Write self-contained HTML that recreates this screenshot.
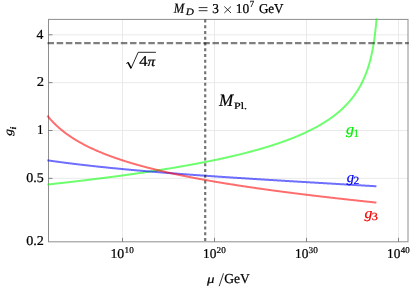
<!DOCTYPE html>
<html><head><meta charset="utf-8"><title>plot</title>
<style>html,body{margin:0;padding:0;background:#fff;overflow:hidden}body{width:413px;height:290px;position:relative;font-family:"Liberation Serif",serif}</style></head>
<body>
<svg width="413" height="290" viewBox="0 0 413 290" style="position:absolute;left:0;top:0;font-family:'Liberation Serif',serif;will-change:transform;text-rendering:geometricPrecision">
<rect x="0" y="0" width="413" height="290" fill="#fff"/>
<line x1="122.50" y1="19.4" x2="122.50" y2="241.8" stroke="#e5e5e5" stroke-width="0.8"/>
<line x1="214.50" y1="19.4" x2="214.50" y2="241.8" stroke="#e5e5e5" stroke-width="0.8"/>
<line x1="306.50" y1="19.4" x2="306.50" y2="241.8" stroke="#e5e5e5" stroke-width="0.8"/>
<line x1="398.50" y1="19.4" x2="398.50" y2="241.8" stroke="#e5e5e5" stroke-width="0.8"/>
<line x1="48.5" y1="34.80" x2="408.0" y2="34.80" stroke="#e5e5e5" stroke-width="0.8"/>
<line x1="48.5" y1="82.65" x2="408.0" y2="82.65" stroke="#e5e5e5" stroke-width="0.8"/>
<line x1="48.5" y1="130.50" x2="408.0" y2="130.50" stroke="#e5e5e5" stroke-width="0.8"/>
<line x1="48.5" y1="178.35" x2="408.0" y2="178.35" stroke="#e5e5e5" stroke-width="0.8"/>
<rect x="48.5" y="19.4" width="359.5" height="222.4" fill="none" stroke="#8e8e8e" stroke-width="1"/>
<path d="M47.40 184.54 L47.90 184.49 L48.40 184.43 L48.90 184.38 L49.40 184.33 L49.90 184.27 L50.40 184.22 L50.90 184.16 L51.40 184.11 L51.90 184.05 L52.40 184.00 L52.90 183.94 L53.40 183.89 L53.90 183.83 L54.40 183.78 L54.90 183.72 L55.40 183.67 L55.90 183.61 L56.40 183.56 L56.90 183.50 L57.40 183.45 L57.90 183.39 L58.40 183.34 L58.90 183.28 L59.40 183.22 L59.90 183.17 L60.40 183.11 L60.90 183.06 L61.40 183.00 L61.90 182.94 L62.40 182.89 L62.90 182.83 L63.40 182.77 L63.90 182.72 L64.40 182.66 L64.90 182.60 L65.40 182.55 L65.90 182.49 L66.40 182.43 L66.90 182.38 L67.40 182.32 L67.90 182.26 L68.40 182.21 L68.90 182.15 L69.40 182.09 L69.90 182.03 L70.40 181.98 L70.90 181.92 L71.40 181.86 L71.90 181.80 L72.40 181.75 L72.90 181.69 L73.40 181.63 L73.90 181.57 L74.40 181.51 L74.90 181.46 L75.40 181.40 L75.90 181.34 L76.40 181.28 L76.90 181.22 L77.40 181.16 L77.90 181.10 L78.40 181.04 L78.90 180.99 L79.40 180.93 L79.90 180.87 L80.40 180.81 L80.90 180.75 L81.40 180.69 L81.90 180.63 L82.40 180.57 L82.90 180.51 L83.40 180.45 L83.90 180.39 L84.40 180.33 L84.90 180.27 L85.40 180.21 L85.90 180.15 L86.40 180.09 L86.90 180.03 L87.40 179.97 L87.90 179.91 L88.40 179.85 L88.90 179.79 L89.40 179.73 L89.90 179.67 L90.40 179.60 L90.90 179.54 L91.40 179.48 L91.90 179.42 L92.40 179.36 L92.90 179.30 L93.40 179.24 L93.90 179.17 L94.40 179.11 L94.90 179.05 L95.40 178.99 L95.90 178.93 L96.40 178.86 L96.90 178.80 L97.40 178.74 L97.90 178.68 L98.40 178.61 L98.90 178.55 L99.40 178.49 L99.90 178.43 L100.40 178.36 L100.90 178.30 L101.40 178.24 L101.90 178.17 L102.40 178.11 L102.90 178.05 L103.40 177.98 L103.90 177.92 L104.40 177.85 L104.90 177.79 L105.40 177.73 L105.90 177.66 L106.40 177.60 L106.90 177.53 L107.40 177.47 L107.90 177.40 L108.40 177.34 L108.90 177.27 L109.40 177.21 L109.90 177.14 L110.40 177.08 L110.90 177.01 L111.40 176.95 L111.90 176.88 L112.40 176.82 L112.90 176.75 L113.40 176.68 L113.90 176.62 L114.40 176.55 L114.90 176.49 L115.40 176.42 L115.90 176.35 L116.40 176.29 L116.90 176.22 L117.40 176.15 L117.90 176.09 L118.40 176.02 L118.90 175.95 L119.40 175.89 L119.90 175.82 L120.40 175.75 L120.90 175.68 L121.40 175.61 L121.90 175.55 L122.40 175.48 L122.90 175.41 L123.40 175.34 L123.90 175.27 L124.40 175.21 L124.90 175.14 L125.40 175.07 L125.90 175.00 L126.40 174.93 L126.90 174.86 L127.40 174.79 L127.90 174.72 L128.40 174.65 L128.90 174.58 L129.40 174.51 L129.90 174.44 L130.40 174.37 L130.90 174.30 L131.40 174.23 L131.90 174.16 L132.40 174.09 L132.90 174.02 L133.40 173.95 L133.90 173.88 L134.40 173.81 L134.90 173.74 L135.40 173.67 L135.90 173.59 L136.40 173.52 L136.90 173.45 L137.40 173.38 L137.90 173.31 L138.40 173.23 L138.90 173.16 L139.40 173.09 L139.90 173.02 L140.40 172.94 L140.90 172.87 L141.40 172.80 L141.90 172.72 L142.40 172.65 L142.90 172.58 L143.40 172.50 L143.90 172.43 L144.40 172.36 L144.90 172.28 L145.40 172.21 L145.90 172.13 L146.40 172.06 L146.90 171.98 L147.40 171.91 L147.90 171.83 L148.40 171.76 L148.90 171.68 L149.40 171.61 L149.90 171.53 L150.40 171.46 L150.90 171.38 L151.40 171.30 L151.90 171.23 L152.40 171.15 L152.90 171.08 L153.40 171.00 L153.90 170.92 L154.40 170.84 L154.90 170.77 L155.40 170.69 L155.90 170.61 L156.40 170.53 L156.90 170.46 L157.40 170.38 L157.90 170.30 L158.40 170.22 L158.90 170.14 L159.40 170.06 L159.90 169.99 L160.40 169.91 L160.90 169.83 L161.40 169.75 L161.90 169.67 L162.40 169.59 L162.90 169.51 L163.40 169.43 L163.90 169.35 L164.40 169.27 L164.90 169.19 L165.40 169.11 L165.90 169.03 L166.40 168.94 L166.90 168.86 L167.40 168.78 L167.90 168.70 L168.40 168.62 L168.90 168.54 L169.40 168.45 L169.90 168.37 L170.40 168.29 L170.90 168.20 L171.40 168.12 L171.90 168.04 L172.40 167.95 L172.90 167.87 L173.40 167.79 L173.90 167.70 L174.40 167.62 L174.90 167.53 L175.40 167.45 L175.90 167.37 L176.40 167.28 L176.90 167.19 L177.40 167.11 L177.90 167.02 L178.40 166.94 L178.90 166.85 L179.40 166.77 L179.90 166.68 L180.40 166.59 L180.90 166.51 L181.40 166.42 L181.90 166.33 L182.40 166.24 L182.90 166.16 L183.40 166.07 L183.90 165.98 L184.40 165.89 L184.90 165.80 L185.40 165.71 L185.90 165.62 L186.40 165.53 L186.90 165.45 L187.40 165.36 L187.90 165.27 L188.40 165.18 L188.90 165.09 L189.40 164.99 L189.90 164.90 L190.40 164.81 L190.90 164.72 L191.40 164.63 L191.90 164.54 L192.40 164.45 L192.90 164.35 L193.40 164.26 L193.90 164.17 L194.40 164.07 L194.90 163.98 L195.40 163.89 L195.90 163.79 L196.40 163.70 L196.90 163.61 L197.40 163.51 L197.90 163.42 L198.40 163.32 L198.90 163.23 L199.40 163.13 L199.90 163.03 L200.40 162.94 L200.90 162.84 L201.40 162.75 L201.90 162.65 L202.40 162.55 L202.90 162.45 L203.40 162.36 L203.90 162.26 L204.40 162.16 L204.90 162.06 L205.40 161.96 L205.90 161.86 L206.40 161.76 L206.90 161.66 L207.40 161.56 L207.90 161.46 L208.40 161.36 L208.90 161.26 L209.40 161.16 L209.90 161.06 L210.40 160.96 L210.90 160.86 L211.40 160.76 L211.90 160.65 L212.40 160.55 L212.90 160.45 L213.40 160.34 L213.90 160.24 L214.40 160.14 L214.90 160.03 L215.40 159.93 L215.90 159.82 L216.40 159.72 L216.90 159.61 L217.40 159.50 L217.90 159.40 L218.40 159.29 L218.90 159.18 L219.40 159.08 L219.90 158.97 L220.40 158.86 L220.90 158.75 L221.40 158.65 L221.90 158.54 L222.40 158.43 L222.90 158.32 L223.40 158.21 L223.90 158.10 L224.40 157.99 L224.90 157.88 L225.40 157.76 L225.90 157.65 L226.40 157.54 L226.90 157.43 L227.40 157.31 L227.90 157.20 L228.40 157.09 L228.90 156.97 L229.40 156.86 L229.90 156.75 L230.40 156.63 L230.90 156.51 L231.40 156.40 L231.90 156.28 L232.40 156.17 L232.90 156.05 L233.40 155.93 L233.90 155.81 L234.40 155.70 L234.90 155.58 L235.40 155.46 L235.90 155.34 L236.40 155.22 L236.90 155.10 L237.40 154.98 L237.90 154.86 L238.40 154.74 L238.90 154.61 L239.40 154.49 L239.90 154.37 L240.40 154.25 L240.90 154.12 L241.40 154.00 L241.90 153.87 L242.40 153.75 L242.90 153.62 L243.40 153.50 L243.90 153.37 L244.40 153.24 L244.90 153.12 L245.40 152.99 L245.90 152.86 L246.40 152.73 L246.90 152.60 L247.40 152.47 L247.90 152.34 L248.40 152.21 L248.90 152.08 L249.40 151.95 L249.90 151.82 L250.40 151.68 L250.90 151.55 L251.40 151.42 L251.90 151.28 L252.40 151.15 L252.90 151.01 L253.40 150.88 L253.90 150.74 L254.40 150.60 L254.90 150.46 L255.40 150.33 L255.90 150.19 L256.40 150.05 L256.90 149.91 L257.40 149.77 L257.90 149.63 L258.40 149.49 L258.90 149.34 L259.40 149.20 L259.90 149.06 L260.40 148.92 L260.90 148.77 L261.40 148.63 L261.90 148.48 L262.40 148.33 L262.90 148.19 L263.40 148.04 L263.90 147.89 L264.40 147.74 L264.90 147.59 L265.40 147.44 L265.90 147.29 L266.40 147.14 L266.90 146.99 L267.40 146.84 L267.90 146.68 L268.40 146.53 L268.90 146.37 L269.40 146.22 L269.90 146.06 L270.40 145.90 L270.90 145.75 L271.40 145.59 L271.90 145.43 L272.40 145.27 L272.90 145.11 L273.40 144.95 L273.90 144.78 L274.40 144.62 L274.90 144.46 L275.40 144.29 L275.90 144.13 L276.40 143.96 L276.90 143.80 L277.40 143.63 L277.90 143.46 L278.40 143.29 L278.90 143.12 L279.40 142.95 L279.90 142.78 L280.40 142.60 L280.90 142.43 L281.40 142.25 L281.90 142.08 L282.40 141.90 L282.90 141.73 L283.40 141.55 L283.90 141.37 L284.40 141.19 L284.90 141.01 L285.40 140.82 L285.90 140.64 L286.40 140.46 L286.90 140.27 L287.40 140.09 L287.90 139.90 L288.40 139.71 L288.90 139.52 L289.40 139.33 L289.90 139.14 L290.40 138.95 L290.90 138.76 L291.40 138.56 L291.90 138.37 L292.40 138.17 L292.90 137.97 L293.40 137.77 L293.90 137.57 L294.40 137.37 L294.90 137.17 L295.40 136.96 L295.90 136.76 L296.40 136.55 L296.90 136.35 L297.40 136.14 L297.90 135.93 L298.40 135.72 L298.90 135.50 L299.40 135.29 L299.90 135.07 L300.40 134.86 L300.90 134.64 L301.40 134.42 L301.90 134.20 L302.40 133.98 L302.90 133.75 L303.40 133.53 L303.90 133.30 L304.40 133.07 L304.90 132.84 L305.40 132.61 L305.90 132.38 L306.40 132.14 L306.90 131.91 L307.40 131.67 L307.90 131.43 L308.40 131.19 L308.90 130.95 L309.40 130.70 L309.90 130.45 L310.40 130.21 L310.90 129.96 L311.40 129.70 L311.90 129.45 L312.40 129.19 L312.90 128.94 L313.40 128.68 L313.90 128.42 L314.40 128.15 L314.90 127.89 L315.40 127.62 L315.90 127.35 L316.40 127.08 L316.90 126.80 L317.40 126.53 L317.90 126.25 L318.40 125.97 L318.90 125.68 L319.40 125.40 L319.90 125.11 L320.40 124.82 L320.90 124.53 L321.40 124.23 L321.90 123.93 L322.40 123.63 L322.90 123.33 L323.40 123.02 L323.90 122.71 L324.40 122.40 L324.90 122.09 L325.40 121.77 L325.90 121.45 L326.40 121.13 L326.90 120.80 L327.40 120.47 L327.90 120.14 L328.40 119.80 L328.90 119.46 L329.40 119.12 L329.90 118.77 L330.40 118.42 L330.90 118.07 L331.40 117.71 L331.90 117.35 L332.40 116.99 L332.90 116.62 L333.40 116.24 L333.90 115.87 L334.40 115.49 L334.90 115.10 L335.40 114.71 L335.90 114.32 L336.40 113.92 L336.90 113.51 L337.40 113.11 L337.90 112.69 L338.40 112.27 L338.90 111.85 L339.40 111.42 L339.90 110.99 L340.40 110.55 L340.90 110.10 L341.40 109.65 L341.90 109.19 L342.40 108.73 L342.90 108.26 L343.40 107.78 L343.90 107.30 L344.40 106.81 L344.90 106.31 L345.40 105.80 L345.90 105.29 L346.40 104.77 L346.90 104.24 L347.40 103.71 L347.90 103.16 L348.40 102.61 L348.90 102.05 L349.40 101.47 L349.90 100.89 L350.40 100.30 L350.90 99.70 L351.40 99.08 L351.90 98.46 L352.40 97.82 L352.90 97.18 L353.40 96.52 L353.90 95.84 L354.40 95.16 L354.90 94.45 L355.40 93.74 L355.90 93.01 L356.40 92.26 L356.90 91.50 L357.40 90.72 L357.90 89.92 L358.40 89.10 L358.90 88.27 L359.40 87.41 L359.90 86.53 L360.40 85.62 L360.90 84.70 L361.40 83.74 L361.90 82.76 L362.40 81.75 L362.90 80.71 L363.40 79.64 L363.90 78.53 L364.40 77.39 L364.90 76.21 L365.40 74.98 L365.90 73.71 L366.40 72.39 L366.90 71.02 L367.40 69.59 L367.90 68.10 L368.40 66.55 L368.90 64.92 L369.40 63.21 L369.90 61.41 L370.40 59.51 L370.90 57.49 L371.40 55.36 L371.90 53.08 L372.40 50.65 L372.90 48.03 L373.40 45.19 L373.90 42.10 L374.40 38.70 L374.90 34.94 L375.40 30.71 L375.90 25.90 L376.40 20.30 L376.56 18.30" fill="none" stroke="#00ff00" stroke-opacity="0.57" stroke-width="2.0" stroke-linejoin="round"/>
<path d="M47.40 160.32 L47.90 160.39 L48.40 160.46 L48.90 160.53 L49.40 160.60 L49.90 160.68 L50.40 160.75 L50.90 160.82 L51.40 160.89 L51.90 160.96 L52.40 161.03 L52.90 161.10 L53.40 161.17 L53.90 161.24 L54.40 161.31 L54.90 161.38 L55.40 161.45 L55.90 161.51 L56.40 161.58 L56.90 161.65 L57.40 161.72 L57.90 161.79 L58.40 161.85 L58.90 161.92 L59.40 161.99 L59.90 162.05 L60.40 162.12 L60.90 162.19 L61.40 162.25 L61.90 162.32 L62.40 162.38 L62.90 162.45 L63.40 162.52 L63.90 162.58 L64.40 162.65 L64.90 162.71 L65.40 162.77 L65.90 162.84 L66.40 162.90 L66.90 162.97 L67.40 163.03 L67.90 163.09 L68.40 163.16 L68.90 163.22 L69.40 163.28 L69.90 163.35 L70.40 163.41 L70.90 163.47 L71.40 163.53 L71.90 163.60 L72.40 163.66 L72.90 163.72 L73.40 163.78 L73.90 163.84 L74.40 163.90 L74.90 163.96 L75.40 164.02 L75.90 164.08 L76.40 164.14 L76.90 164.21 L77.40 164.27 L77.90 164.32 L78.40 164.38 L78.90 164.44 L79.40 164.50 L79.90 164.56 L80.40 164.62 L80.90 164.68 L81.40 164.74 L81.90 164.80 L82.40 164.86 L82.90 164.91 L83.40 164.97 L83.90 165.03 L84.40 165.09 L84.90 165.14 L85.40 165.20 L85.90 165.26 L86.40 165.32 L86.90 165.37 L87.40 165.43 L87.90 165.49 L88.40 165.54 L88.90 165.60 L89.40 165.65 L89.90 165.71 L90.40 165.77 L90.90 165.82 L91.40 165.88 L91.90 165.93 L92.40 165.99 L92.90 166.04 L93.40 166.10 L93.90 166.15 L94.40 166.21 L94.90 166.26 L95.40 166.31 L95.90 166.37 L96.40 166.42 L96.90 166.48 L97.40 166.53 L97.90 166.58 L98.40 166.64 L98.90 166.69 L99.40 166.74 L99.90 166.80 L100.40 166.85 L100.90 166.90 L101.40 166.95 L101.90 167.01 L102.40 167.06 L102.90 167.11 L103.40 167.16 L103.90 167.22 L104.40 167.27 L104.90 167.32 L105.40 167.37 L105.90 167.42 L106.40 167.47 L106.90 167.52 L107.40 167.57 L107.90 167.63 L108.40 167.68 L108.90 167.73 L109.40 167.78 L109.90 167.83 L110.40 167.88 L110.90 167.93 L111.40 167.98 L111.90 168.03 L112.40 168.08 L112.90 168.13 L113.40 168.18 L113.90 168.23 L114.40 168.27 L114.90 168.32 L115.40 168.37 L115.90 168.42 L116.40 168.47 L116.90 168.52 L117.40 168.57 L117.90 168.62 L118.40 168.66 L118.90 168.71 L119.40 168.76 L119.90 168.81 L120.40 168.86 L120.90 168.90 L121.40 168.95 L121.90 169.00 L122.40 169.05 L122.90 169.09 L123.40 169.14 L123.90 169.19 L124.40 169.24 L124.90 169.28 L125.40 169.33 L125.90 169.38 L126.40 169.42 L126.90 169.47 L127.40 169.51 L127.90 169.56 L128.40 169.61 L128.90 169.65 L129.40 169.70 L129.90 169.74 L130.40 169.79 L130.90 169.84 L131.40 169.88 L131.90 169.93 L132.40 169.97 L132.90 170.02 L133.40 170.06 L133.90 170.11 L134.40 170.15 L134.90 170.20 L135.40 170.24 L135.90 170.29 L136.40 170.33 L136.90 170.38 L137.40 170.42 L137.90 170.46 L138.40 170.51 L138.90 170.55 L139.40 170.60 L139.90 170.64 L140.40 170.68 L140.90 170.73 L141.40 170.77 L141.90 170.81 L142.40 170.86 L142.90 170.90 L143.40 170.94 L143.90 170.99 L144.40 171.03 L144.90 171.07 L145.40 171.12 L145.90 171.16 L146.40 171.20 L146.90 171.24 L147.40 171.29 L147.90 171.33 L148.40 171.37 L148.90 171.41 L149.40 171.46 L149.90 171.50 L150.40 171.54 L150.90 171.58 L151.40 171.62 L151.90 171.67 L152.40 171.71 L152.90 171.75 L153.40 171.79 L153.90 171.83 L154.40 171.87 L154.90 171.91 L155.40 171.95 L155.90 172.00 L156.40 172.04 L156.90 172.08 L157.40 172.12 L157.90 172.16 L158.40 172.20 L158.90 172.24 L159.40 172.28 L159.90 172.32 L160.40 172.36 L160.90 172.40 L161.40 172.44 L161.90 172.48 L162.40 172.52 L162.90 172.56 L163.40 172.60 L163.90 172.64 L164.40 172.68 L164.90 172.72 L165.40 172.76 L165.90 172.80 L166.40 172.84 L166.90 172.88 L167.40 172.92 L167.90 172.96 L168.40 173.00 L168.90 173.04 L169.40 173.08 L169.90 173.12 L170.40 173.16 L170.90 173.19 L171.40 173.23 L171.90 173.27 L172.40 173.31 L172.90 173.35 L173.40 173.39 L173.90 173.43 L174.40 173.46 L174.90 173.50 L175.40 173.54 L175.90 173.58 L176.40 173.62 L176.90 173.66 L177.40 173.69 L177.90 173.73 L178.40 173.77 L178.90 173.81 L179.40 173.85 L179.90 173.88 L180.40 173.92 L180.90 173.96 L181.40 174.00 L181.90 174.03 L182.40 174.07 L182.90 174.11 L183.40 174.15 L183.90 174.18 L184.40 174.22 L184.90 174.26 L185.40 174.29 L185.90 174.33 L186.40 174.37 L186.90 174.41 L187.40 174.44 L187.90 174.48 L188.40 174.52 L188.90 174.55 L189.40 174.59 L189.90 174.63 L190.40 174.66 L190.90 174.70 L191.40 174.74 L191.90 174.77 L192.40 174.81 L192.90 174.84 L193.40 174.88 L193.90 174.92 L194.40 174.95 L194.90 174.99 L195.40 175.02 L195.90 175.06 L196.40 175.10 L196.90 175.13 L197.40 175.17 L197.90 175.20 L198.40 175.24 L198.90 175.27 L199.40 175.31 L199.90 175.35 L200.40 175.38 L200.90 175.42 L201.40 175.45 L201.90 175.49 L202.40 175.52 L202.90 175.56 L203.40 175.59 L203.90 175.63 L204.40 175.66 L204.90 175.70 L205.40 175.73 L205.90 175.77 L206.40 175.80 L206.90 175.84 L207.40 175.87 L207.90 175.91 L208.40 175.94 L208.90 175.98 L209.40 176.01 L209.90 176.05 L210.40 176.08 L210.90 176.12 L211.40 176.15 L211.90 176.18 L212.40 176.22 L212.90 176.25 L213.40 176.29 L213.90 176.32 L214.40 176.36 L214.90 176.39 L215.40 176.42 L215.90 176.46 L216.40 176.49 L216.90 176.53 L217.40 176.56 L217.90 176.59 L218.40 176.63 L218.90 176.66 L219.40 176.69 L219.90 176.73 L220.40 176.76 L220.90 176.80 L221.40 176.83 L221.90 176.86 L222.40 176.90 L222.90 176.93 L223.40 176.96 L223.90 177.00 L224.40 177.03 L224.90 177.06 L225.40 177.10 L225.90 177.13 L226.40 177.16 L226.90 177.20 L227.40 177.23 L227.90 177.26 L228.40 177.30 L228.90 177.33 L229.40 177.36 L229.90 177.40 L230.40 177.43 L230.90 177.46 L231.40 177.49 L231.90 177.53 L232.40 177.56 L232.90 177.59 L233.40 177.63 L233.90 177.66 L234.40 177.69 L234.90 177.72 L235.40 177.76 L235.90 177.79 L236.40 177.82 L236.90 177.85 L237.40 177.89 L237.90 177.92 L238.40 177.95 L238.90 177.98 L239.40 178.02 L239.90 178.05 L240.40 178.08 L240.90 178.11 L241.40 178.14 L241.90 178.18 L242.40 178.21 L242.90 178.24 L243.40 178.27 L243.90 178.31 L244.40 178.34 L244.90 178.37 L245.40 178.40 L245.90 178.43 L246.40 178.47 L246.90 178.50 L247.40 178.53 L247.90 178.56 L248.40 178.59 L248.90 178.62 L249.40 178.66 L249.90 178.69 L250.40 178.72 L250.90 178.75 L251.40 178.78 L251.90 178.81 L252.40 178.85 L252.90 178.88 L253.40 178.91 L253.90 178.94 L254.40 178.97 L254.90 179.00 L255.40 179.04 L255.90 179.07 L256.40 179.10 L256.90 179.13 L257.40 179.16 L257.90 179.19 L258.40 179.22 L258.90 179.26 L259.40 179.29 L259.90 179.32 L260.40 179.35 L260.90 179.38 L261.40 179.41 L261.90 179.44 L262.40 179.47 L262.90 179.50 L263.40 179.54 L263.90 179.57 L264.40 179.60 L264.90 179.63 L265.40 179.66 L265.90 179.69 L266.40 179.72 L266.90 179.75 L267.40 179.78 L267.90 179.81 L268.40 179.85 L268.90 179.88 L269.40 179.91 L269.90 179.94 L270.40 179.97 L270.90 180.00 L271.40 180.03 L271.90 180.06 L272.40 180.09 L272.90 180.12 L273.40 180.15 L273.90 180.18 L274.40 180.21 L274.90 180.24 L275.40 180.28 L275.90 180.31 L276.40 180.34 L276.90 180.37 L277.40 180.40 L277.90 180.43 L278.40 180.46 L278.90 180.49 L279.40 180.52 L279.90 180.55 L280.40 180.58 L280.90 180.61 L281.40 180.64 L281.90 180.67 L282.40 180.70 L282.90 180.73 L283.40 180.76 L283.90 180.79 L284.40 180.82 L284.90 180.85 L285.40 180.88 L285.90 180.91 L286.40 180.94 L286.90 180.97 L287.40 181.01 L287.90 181.04 L288.40 181.07 L288.90 181.10 L289.40 181.13 L289.90 181.16 L290.40 181.19 L290.90 181.22 L291.40 181.25 L291.90 181.28 L292.40 181.31 L292.90 181.34 L293.40 181.37 L293.90 181.40 L294.40 181.43 L294.90 181.46 L295.40 181.49 L295.90 181.52 L296.40 181.55 L296.90 181.58 L297.40 181.61 L297.90 181.64 L298.40 181.67 L298.90 181.70 L299.40 181.73 L299.90 181.76 L300.40 181.79 L300.90 181.82 L301.40 181.85 L301.90 181.88 L302.40 181.91 L302.90 181.94 L303.40 181.97 L303.90 182.00 L304.40 182.03 L304.90 182.05 L305.40 182.08 L305.90 182.11 L306.40 182.14 L306.90 182.17 L307.40 182.20 L307.90 182.23 L308.40 182.26 L308.90 182.29 L309.40 182.32 L309.90 182.35 L310.40 182.38 L310.90 182.41 L311.40 182.44 L311.90 182.47 L312.40 182.50 L312.90 182.53 L313.40 182.56 L313.90 182.59 L314.40 182.62 L314.90 182.65 L315.40 182.68 L315.90 182.71 L316.40 182.74 L316.90 182.77 L317.40 182.80 L317.90 182.83 L318.40 182.86 L318.90 182.89 L319.40 182.92 L319.90 182.95 L320.40 182.97 L320.90 183.00 L321.40 183.03 L321.90 183.06 L322.40 183.09 L322.90 183.12 L323.40 183.15 L323.90 183.18 L324.40 183.21 L324.90 183.24 L325.40 183.27 L325.90 183.30 L326.40 183.33 L326.90 183.36 L327.40 183.39 L327.90 183.42 L328.40 183.45 L328.90 183.48 L329.40 183.51 L329.90 183.54 L330.40 183.57 L330.90 183.59 L331.40 183.62 L331.90 183.65 L332.40 183.68 L332.90 183.71 L333.40 183.74 L333.90 183.77 L334.40 183.80 L334.90 183.83 L335.40 183.86 L335.90 183.89 L336.40 183.92 L336.90 183.95 L337.40 183.98 L337.90 184.01 L338.40 184.04 L338.90 184.07 L339.40 184.10 L339.90 184.13 L340.40 184.15 L340.90 184.18 L341.40 184.21 L341.90 184.24 L342.40 184.27 L342.90 184.30 L343.40 184.33 L343.90 184.36 L344.40 184.39 L344.90 184.42 L345.40 184.45 L345.90 184.48 L346.40 184.51 L346.90 184.54 L347.40 184.57 L347.90 184.60 L348.40 184.63 L348.90 184.66 L349.40 184.68 L349.90 184.71 L350.40 184.74 L350.90 184.77 L351.40 184.80 L351.90 184.83 L352.40 184.86 L352.90 184.89 L353.40 184.92 L353.90 184.95 L354.40 184.98 L354.90 185.01 L355.40 185.04 L355.90 185.07 L356.40 185.10 L356.90 185.13 L357.40 185.16 L357.90 185.19 L358.40 185.21 L358.90 185.24 L359.40 185.27 L359.90 185.30 L360.40 185.33 L360.90 185.36 L361.40 185.39 L361.90 185.42 L362.40 185.45 L362.90 185.48 L363.40 185.51 L363.90 185.54 L364.40 185.57 L364.90 185.60 L365.40 185.63 L365.90 185.66 L366.40 185.69 L366.90 185.72 L367.40 185.75 L367.90 185.78 L368.40 185.81 L368.90 185.83 L369.40 185.86 L369.90 185.89 L370.40 185.92 L370.90 185.95 L371.40 185.98 L371.90 186.01 L372.40 186.04 L372.90 186.07 L373.40 186.10 L373.90 186.13 L374.40 186.16 L374.90 186.19 L375.40 186.22 L375.90 186.25 L376.40 186.28" fill="none" stroke="#0000ff" stroke-opacity="0.57" stroke-width="2.0" stroke-linejoin="round"/>
<path d="M47.40 115.72 L47.90 116.34 L48.40 116.95 L48.90 117.55 L49.40 118.14 L49.90 118.72 L50.40 119.29 L50.90 119.85 L51.40 120.40 L51.90 120.94 L52.40 121.47 L52.90 122.00 L53.40 122.51 L53.90 123.02 L54.40 123.52 L54.90 124.02 L55.40 124.50 L55.90 124.98 L56.40 125.45 L56.90 125.92 L57.40 126.38 L57.90 126.83 L58.40 127.28 L58.90 127.72 L59.40 128.15 L59.90 128.58 L60.40 129.01 L60.90 129.43 L61.40 129.84 L61.90 130.25 L62.40 130.65 L62.90 131.05 L63.40 131.45 L63.90 131.84 L64.40 132.22 L64.90 132.60 L65.40 132.98 L65.90 133.35 L66.40 133.72 L66.90 134.08 L67.40 134.44 L67.90 134.80 L68.40 135.15 L68.90 135.50 L69.40 135.84 L69.90 136.18 L70.40 136.52 L70.90 136.85 L71.40 137.19 L71.90 137.51 L72.40 137.84 L72.90 138.16 L73.40 138.48 L73.90 138.79 L74.40 139.10 L74.90 139.41 L75.40 139.72 L75.90 140.02 L76.40 140.32 L76.90 140.62 L77.40 140.92 L77.90 141.21 L78.40 141.50 L78.90 141.79 L79.40 142.07 L79.90 142.36 L80.40 142.64 L80.90 142.91 L81.40 143.19 L81.90 143.46 L82.40 143.73 L82.90 144.00 L83.40 144.27 L83.90 144.53 L84.40 144.80 L84.90 145.06 L85.40 145.31 L85.90 145.57 L86.40 145.82 L86.90 146.08 L87.40 146.33 L87.90 146.58 L88.40 146.82 L88.90 147.07 L89.40 147.31 L89.90 147.55 L90.40 147.79 L90.90 148.03 L91.40 148.26 L91.90 148.50 L92.40 148.73 L92.90 148.96 L93.40 149.19 L93.90 149.42 L94.40 149.64 L94.90 149.87 L95.40 150.09 L95.90 150.31 L96.40 150.53 L96.90 150.75 L97.40 150.97 L97.90 151.18 L98.40 151.40 L98.90 151.61 L99.40 151.82 L99.90 152.03 L100.40 152.24 L100.90 152.45 L101.40 152.65 L101.90 152.86 L102.40 153.06 L102.90 153.26 L103.40 153.46 L103.90 153.66 L104.40 153.86 L104.90 154.06 L105.40 154.26 L105.90 154.45 L106.40 154.65 L106.90 154.84 L107.40 155.03 L107.90 155.22 L108.40 155.41 L108.90 155.60 L109.40 155.78 L109.90 155.97 L110.40 156.15 L110.90 156.34 L111.40 156.52 L111.90 156.70 L112.40 156.88 L112.90 157.06 L113.40 157.24 L113.90 157.42 L114.40 157.60 L114.90 157.77 L115.40 157.95 L115.90 158.12 L116.40 158.30 L116.90 158.47 L117.40 158.64 L117.90 158.81 L118.40 158.98 L118.90 159.15 L119.40 159.32 L119.90 159.48 L120.40 159.65 L120.90 159.81 L121.40 159.98 L121.90 160.14 L122.40 160.31 L122.90 160.47 L123.40 160.63 L123.90 160.79 L124.40 160.95 L124.90 161.11 L125.40 161.26 L125.90 161.42 L126.40 161.58 L126.90 161.73 L127.40 161.89 L127.90 162.04 L128.40 162.20 L128.90 162.35 L129.40 162.50 L129.90 162.65 L130.40 162.80 L130.90 162.95 L131.40 163.10 L131.90 163.25 L132.40 163.40 L132.90 163.55 L133.40 163.69 L133.90 163.84 L134.40 163.99 L134.90 164.13 L135.40 164.27 L135.90 164.42 L136.40 164.56 L136.90 164.70 L137.40 164.84 L137.90 164.98 L138.40 165.13 L138.90 165.26 L139.40 165.40 L139.90 165.54 L140.40 165.68 L140.90 165.82 L141.40 165.95 L141.90 166.09 L142.40 166.23 L142.90 166.36 L143.40 166.50 L143.90 166.63 L144.40 166.76 L144.90 166.90 L145.40 167.03 L145.90 167.16 L146.40 167.29 L146.90 167.42 L147.40 167.55 L147.90 167.68 L148.40 167.81 L148.90 167.94 L149.40 168.07 L149.90 168.20 L150.40 168.32 L150.90 168.45 L151.40 168.58 L151.90 168.70 L152.40 168.83 L152.90 168.95 L153.40 169.08 L153.90 169.20 L154.40 169.32 L154.90 169.45 L155.40 169.57 L155.90 169.69 L156.40 169.81 L156.90 169.94 L157.40 170.06 L157.90 170.18 L158.40 170.30 L158.90 170.42 L159.40 170.53 L159.90 170.65 L160.40 170.77 L160.90 170.89 L161.40 171.01 L161.90 171.12 L162.40 171.24 L162.90 171.36 L163.40 171.47 L163.90 171.59 L164.40 171.70 L164.90 171.82 L165.40 171.93 L165.90 172.04 L166.40 172.16 L166.90 172.27 L167.40 172.38 L167.90 172.49 L168.40 172.61 L168.90 172.72 L169.40 172.83 L169.90 172.94 L170.40 173.05 L170.90 173.16 L171.40 173.27 L171.90 173.38 L172.40 173.49 L172.90 173.59 L173.40 173.70 L173.90 173.81 L174.40 173.92 L174.90 174.03 L175.40 174.13 L175.90 174.24 L176.40 174.34 L176.90 174.45 L177.40 174.56 L177.90 174.66 L178.40 174.77 L178.90 174.87 L179.40 174.97 L179.90 175.08 L180.40 175.18 L180.90 175.28 L181.40 175.39 L181.90 175.49 L182.40 175.59 L182.90 175.69 L183.40 175.80 L183.90 175.90 L184.40 176.00 L184.90 176.10 L185.40 176.20 L185.90 176.30 L186.40 176.40 L186.90 176.50 L187.40 176.60 L187.90 176.70 L188.40 176.79 L188.90 176.89 L189.40 176.99 L189.90 177.09 L190.40 177.19 L190.90 177.28 L191.40 177.38 L191.90 177.48 L192.40 177.57 L192.90 177.67 L193.40 177.77 L193.90 177.86 L194.40 177.96 L194.90 178.05 L195.40 178.15 L195.90 178.24 L196.40 178.34 L196.90 178.43 L197.40 178.52 L197.90 178.62 L198.40 178.71 L198.90 178.80 L199.40 178.90 L199.90 178.99 L200.40 179.08 L200.90 179.17 L201.40 179.26 L201.90 179.36 L202.40 179.45 L202.90 179.54 L203.40 179.63 L203.90 179.72 L204.40 179.81 L204.90 179.90 L205.40 179.99 L205.90 180.08 L206.40 180.17 L206.90 180.26 L207.40 180.35 L207.90 180.43 L208.40 180.52 L208.90 180.61 L209.40 180.70 L209.90 180.79 L210.40 180.88 L210.90 180.96 L211.40 181.05 L211.90 181.14 L212.40 181.22 L212.90 181.31 L213.40 181.40 L213.90 181.48 L214.40 181.57 L214.90 181.65 L215.40 181.74 L215.90 181.82 L216.40 181.91 L216.90 181.99 L217.40 182.08 L217.90 182.16 L218.40 182.25 L218.90 182.33 L219.40 182.42 L219.90 182.50 L220.40 182.58 L220.90 182.67 L221.40 182.75 L221.90 182.83 L222.40 182.91 L222.90 183.00 L223.40 183.08 L223.90 183.16 L224.40 183.24 L224.90 183.33 L225.40 183.41 L225.90 183.49 L226.40 183.57 L226.90 183.65 L227.40 183.73 L227.90 183.81 L228.40 183.89 L228.90 183.97 L229.40 184.05 L229.90 184.13 L230.40 184.21 L230.90 184.29 L231.40 184.37 L231.90 184.45 L232.40 184.53 L232.90 184.61 L233.40 184.69 L233.90 184.77 L234.40 184.84 L234.90 184.92 L235.40 185.00 L235.90 185.08 L236.40 185.16 L236.90 185.23 L237.40 185.31 L237.90 185.39 L238.40 185.46 L238.90 185.54 L239.40 185.62 L239.90 185.70 L240.40 185.77 L240.90 185.85 L241.40 185.92 L241.90 186.00 L242.40 186.08 L242.90 186.15 L243.40 186.23 L243.90 186.30 L244.40 186.38 L244.90 186.45 L245.40 186.53 L245.90 186.60 L246.40 186.68 L246.90 186.75 L247.40 186.83 L247.90 186.90 L248.40 186.97 L248.90 187.05 L249.40 187.12 L249.90 187.19 L250.40 187.27 L250.90 187.34 L251.40 187.41 L251.90 187.49 L252.40 187.56 L252.90 187.63 L253.40 187.71 L253.90 187.78 L254.40 187.85 L254.90 187.92 L255.40 187.99 L255.90 188.07 L256.40 188.14 L256.90 188.21 L257.40 188.28 L257.90 188.35 L258.40 188.42 L258.90 188.49 L259.40 188.57 L259.90 188.64 L260.40 188.71 L260.90 188.78 L261.40 188.85 L261.90 188.92 L262.40 188.99 L262.90 189.06 L263.40 189.13 L263.90 189.20 L264.40 189.27 L264.90 189.34 L265.40 189.41 L265.90 189.48 L266.40 189.55 L266.90 189.62 L267.40 189.68 L267.90 189.75 L268.40 189.82 L268.90 189.89 L269.40 189.96 L269.90 190.03 L270.40 190.10 L270.90 190.16 L271.40 190.23 L271.90 190.30 L272.40 190.37 L272.90 190.43 L273.40 190.50 L273.90 190.57 L274.40 190.64 L274.90 190.70 L275.40 190.77 L275.90 190.84 L276.40 190.91 L276.90 190.97 L277.40 191.04 L277.90 191.11 L278.40 191.17 L278.90 191.24 L279.40 191.30 L279.90 191.37 L280.40 191.44 L280.90 191.50 L281.40 191.57 L281.90 191.63 L282.40 191.70 L282.90 191.76 L283.40 191.83 L283.90 191.90 L284.40 191.96 L284.90 192.03 L285.40 192.09 L285.90 192.16 L286.40 192.22 L286.90 192.29 L287.40 192.35 L287.90 192.41 L288.40 192.48 L288.90 192.54 L289.40 192.61 L289.90 192.67 L290.40 192.74 L290.90 192.80 L291.40 192.86 L291.90 192.93 L292.40 192.99 L292.90 193.05 L293.40 193.12 L293.90 193.18 L294.40 193.24 L294.90 193.31 L295.40 193.37 L295.90 193.43 L296.40 193.50 L296.90 193.56 L297.40 193.62 L297.90 193.68 L298.40 193.75 L298.90 193.81 L299.40 193.87 L299.90 193.93 L300.40 193.99 L300.90 194.06 L301.40 194.12 L301.90 194.18 L302.40 194.24 L302.90 194.30 L303.40 194.37 L303.90 194.43 L304.40 194.49 L304.90 194.55 L305.40 194.61 L305.90 194.67 L306.40 194.73 L306.90 194.79 L307.40 194.85 L307.90 194.92 L308.40 194.98 L308.90 195.04 L309.40 195.10 L309.90 195.16 L310.40 195.22 L310.90 195.28 L311.40 195.34 L311.90 195.40 L312.40 195.46 L312.90 195.52 L313.40 195.58 L313.90 195.64 L314.40 195.70 L314.90 195.76 L315.40 195.82 L315.90 195.88 L316.40 195.94 L316.90 196.00 L317.40 196.06 L317.90 196.12 L318.40 196.17 L318.90 196.23 L319.40 196.29 L319.90 196.35 L320.40 196.41 L320.90 196.47 L321.40 196.53 L321.90 196.59 L322.40 196.64 L322.90 196.70 L323.40 196.76 L323.90 196.82 L324.40 196.88 L324.90 196.94 L325.40 196.99 L325.90 197.05 L326.40 197.11 L326.90 197.17 L327.40 197.23 L327.90 197.28 L328.40 197.34 L328.90 197.40 L329.40 197.46 L329.90 197.51 L330.40 197.57 L330.90 197.63 L331.40 197.69 L331.90 197.74 L332.40 197.80 L332.90 197.86 L333.40 197.91 L333.90 197.97 L334.40 198.03 L334.90 198.09 L335.40 198.14 L335.90 198.20 L336.40 198.26 L336.90 198.31 L337.40 198.37 L337.90 198.42 L338.40 198.48 L338.90 198.54 L339.40 198.59 L339.90 198.65 L340.40 198.71 L340.90 198.76 L341.40 198.82 L341.90 198.87 L342.40 198.93 L342.90 198.98 L343.40 199.04 L343.90 199.10 L344.40 199.15 L344.90 199.21 L345.40 199.26 L345.90 199.32 L346.40 199.37 L346.90 199.43 L347.40 199.48 L347.90 199.54 L348.40 199.59 L348.90 199.65 L349.40 199.70 L349.90 199.76 L350.40 199.81 L350.90 199.87 L351.40 199.92 L351.90 199.98 L352.40 200.03 L352.90 200.09 L353.40 200.14 L353.90 200.20 L354.40 200.25 L354.90 200.31 L355.40 200.36 L355.90 200.41 L356.40 200.47 L356.90 200.52 L357.40 200.58 L357.90 200.63 L358.40 200.68 L358.90 200.74 L359.40 200.79 L359.90 200.85 L360.40 200.90 L360.90 200.95 L361.40 201.01 L361.90 201.06 L362.40 201.11 L362.90 201.17 L363.40 201.22 L363.90 201.27 L364.40 201.33 L364.90 201.38 L365.40 201.43 L365.90 201.49 L366.40 201.54 L366.90 201.59 L367.40 201.65 L367.90 201.70 L368.40 201.75 L368.90 201.81 L369.40 201.86 L369.90 201.91 L370.40 201.96 L370.90 202.02 L371.40 202.07 L371.90 202.12 L372.40 202.17 L372.90 202.23 L373.40 202.28 L373.90 202.33 L374.40 202.38 L374.90 202.44 L375.40 202.49 L375.90 202.54 L376.40 202.59" fill="none" stroke="#ff0000" stroke-opacity="0.57" stroke-width="2.0" stroke-linejoin="round"/>
<line x1="47.5" y1="43.15" x2="408.8" y2="43.15" stroke="#000" stroke-opacity="0.5" stroke-width="2.1" stroke-dasharray="6.5 2.665"/>
<line x1="205.2" y1="19.4" x2="205.2" y2="241.8" stroke="#000" stroke-opacity="0.55" stroke-width="2.2" stroke-dasharray="3.15 2.6"/>
<line x1="122.50" y1="241.8" x2="122.50" y2="237.8" stroke="#707070" stroke-width="0.85"/>
<line x1="214.50" y1="241.8" x2="214.50" y2="237.8" stroke="#707070" stroke-width="0.85"/>
<line x1="306.50" y1="241.8" x2="306.50" y2="237.8" stroke="#707070" stroke-width="0.85"/>
<line x1="398.50" y1="241.8" x2="398.50" y2="237.8" stroke="#707070" stroke-width="0.85"/>
<line x1="48.5" y1="34.80" x2="52.5" y2="34.80" stroke="#707070" stroke-width="0.85"/>
<line x1="48.5" y1="82.65" x2="52.5" y2="82.65" stroke="#707070" stroke-width="0.85"/>
<line x1="48.5" y1="130.50" x2="52.5" y2="130.50" stroke="#707070" stroke-width="0.85"/>
<line x1="48.5" y1="178.35" x2="52.5" y2="178.35" stroke="#707070" stroke-width="0.85"/>
<text transform="translate(36.62,38.50) scale(1.0055,1)" font-size="13.69" fill="#000" stroke="#000" stroke-width="0.22">4</text>
<text transform="translate(36.78,86.35) scale(1.0790,1)" font-size="13.58" fill="#000" stroke="#000" stroke-width="0.22">2</text>
<text transform="translate(37.06,134.20) scale(0.9570,1)" font-size="13.64" fill="#000" stroke="#000" stroke-width="0.22">1</text>
<text transform="translate(26.18,182.05) scale(1.0335,1)" font-size="13.53" fill="#000" stroke="#000" stroke-width="0.22">0.5</text>
<text transform="translate(26.17,245.40) scale(1.0469,1)" font-size="13.53" fill="#000" stroke="#000" stroke-width="0.22">0.2</text>
<text transform="translate(110.39,258.40) scale(1.0218,1)" font-size="13.53" fill="#000" stroke="#000" stroke-width="0.22">10</text>
<text transform="translate(124.60,252.70) scale(1.0305,1)" font-size="8.87" fill="#000" stroke="#000" stroke-width="0.22">10</text>
<text transform="translate(203.03,258.40) scale(0.9838,1)" font-size="13.53" fill="#000" stroke="#000" stroke-width="0.22">10</text>
<text transform="translate(216.61,252.70) scale(1.0352,1)" font-size="8.87" fill="#000" stroke="#000" stroke-width="0.22">20</text>
<text transform="translate(295.04,258.40) scale(0.9838,1)" font-size="13.53" fill="#000" stroke="#000" stroke-width="0.22">10</text>
<text transform="translate(308.56,252.70) scale(1.0409,1)" font-size="8.87" fill="#000" stroke="#000" stroke-width="0.22">30</text>
<text transform="translate(387.04,258.40) scale(0.9838,1)" font-size="13.53" fill="#000" stroke="#000" stroke-width="0.22">10</text>
<text transform="translate(400.82,252.70) scale(1.0105,1)" font-size="8.87" fill="#000" stroke="#000" stroke-width="0.22">40</text>
<text transform="translate(173.66,12.50) scale(0.8917,1)" font-size="14.20" font-style="italic" fill="#000" stroke="#000" stroke-width="0.22">M</text>
<text transform="translate(185.64,15.00) scale(1.1514,1)" font-size="9.77" font-style="italic" fill="#000" stroke="#000" stroke-width="0.22">D</text>
<path d="M198.7 7.6H207.5M198.7 10.7H207.5" stroke="#000" stroke-width="0.8" fill="none"/>
<text transform="translate(212.27,12.50) scale(0.9815,1)" font-size="13.58" fill="#000" stroke="#000" stroke-width="0.22">3</text>
<path d="M224.3 6.5L231 13.0M231 6.5L224.3 13.0" stroke="#000" stroke-width="0.8" fill="none"/>
<text transform="translate(235.82,12.50) scale(0.9964,1)" font-size="13.53" fill="#000" stroke="#000" stroke-width="0.22">10</text>
<text transform="translate(249.63,7.20) scale(0.9486,1)" font-size="9.31" fill="#000" stroke="#000" stroke-width="0.22">7</text>
<text transform="translate(258.88,12.50) scale(0.9628,1)" font-size="13.58" fill="#000" stroke="#000" stroke-width="0.22">GeV</text>
<text transform="translate(207.00,283.30) scale(1.2456,1)" font-size="11.96" font-style="italic" fill="#000" stroke="#000" stroke-width="0.22">μ</text>
<path d="M219.2 286.2L223.5 273.3" stroke="#000" stroke-width="0.8" fill="none"/>
<text transform="translate(224.16,283.30) scale(0.9879,1)" font-size="13.74" fill="#000" stroke="#000" stroke-width="0.22">GeV</text>
<g transform="translate(11.6,135.8) rotate(-90)">
<text transform="translate(0.10,-0.10) scale(1.1968,1)" font-size="11.20" font-style="italic" fill="#000" stroke="#000" stroke-width="0.22">g</text>
<text transform="translate(6.07,4.40) scale(1.3054,1)" font-size="8.75" font-style="italic" fill="#000" stroke="#000" stroke-width="0.22">i</text>
</g>
<path d="M126.3 63.5L128.1 62.4M131.1 68.2L138.2 52.3H155.9" fill="none" stroke="#000" stroke-width="0.85"/>
<path d="M128.0 62.3L131.2 68.3" fill="none" stroke="#000" stroke-width="1.5"/>
<text transform="translate(139.17,66.00) scale(1.0888,1)" font-size="15.21" fill="#000" stroke="#000" stroke-width="0.22">4</text>
<text transform="translate(147.62,66.00) scale(1.0919,1)" font-size="13.91" font-style="italic" fill="#000" stroke="#000" stroke-width="0.22">π</text>
<text transform="translate(219.11,106.40) scale(0.9785,1)" font-size="17.40" font-style="italic" fill="#000" stroke="#000" stroke-width="0.22">M</text>
<text transform="translate(233.97,108.60) scale(1.2437,1)" font-size="9.64" fill="#000" stroke="#000" stroke-width="0.22">Pl.</text>
<text transform="translate(346.00,134.40) scale(1.0857,1)" font-size="14.89" font-style="italic" fill="#00f000" stroke="#00f000" stroke-width="0.22">g</text>
<text transform="translate(353.73,136.70) scale(0.8977,1)" font-size="11.06" fill="#00f000" stroke="#00f000" stroke-width="0.22">1</text>
<text transform="translate(346.70,182.30) scale(0.9857,1)" font-size="14.89" font-style="italic" fill="#0000f0" stroke="#0000f0" stroke-width="0.22">g</text>
<text transform="translate(353.51,184.40) scale(1.0372,1)" font-size="11.02" fill="#0000f0" stroke="#0000f0" stroke-width="0.22">2</text>
<text transform="translate(364.60,217.50) scale(1.0571,1)" font-size="14.89" font-style="italic" fill="#f00000" stroke="#f00000" stroke-width="0.22">g</text>
<text transform="translate(371.82,219.90) scale(1.1000,1)" font-size="11.02" fill="#f00000" stroke="#f00000" stroke-width="0.22">3</text>
</svg>
</body></html>
